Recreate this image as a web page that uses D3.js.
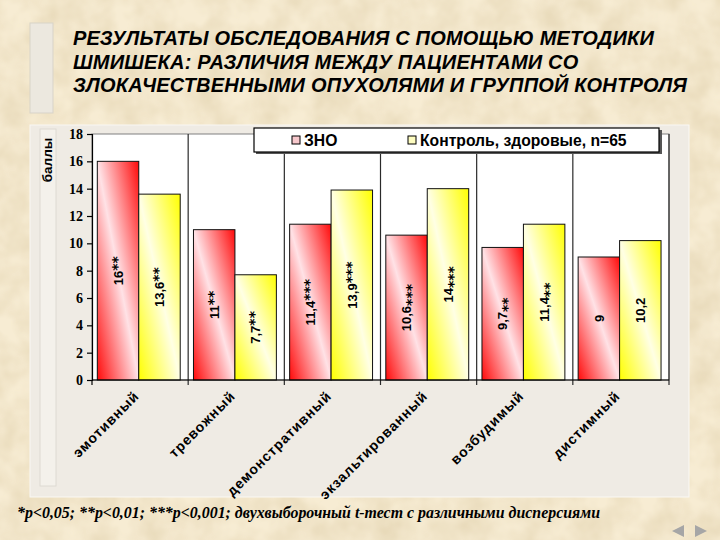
<!DOCTYPE html>
<html>
<head>
<meta charset="utf-8">
<script src="https://cdn.jsdelivr.net/npm/d3@7/dist/d3.min.js"></script>
<style>
  body { margin: 0; padding: 0; background: #f6eacf; }
  svg { display: block; }
</style>
</head>
<body>
<div id="chart"></div>
<script>
//
// Data
//
var categories = ["эмотивный", "тревожный", "демонстративный", "экзальтированный", "возбудимый", "дистимный"];
var seriesNames = ["ЗНО", "Контроль, здоровые, n=65"];
var znoValues = [16, 11, 11.4, 10.6, 9.7, 9];
var controlValues = [13.6, 7.7, 13.9, 14, 11.4, 10.2];
var znoStars = ["**", "**", "***", "***", "**", ""];
var controlStars = ["**", "**", "***", "***", "**", ""];
var yTicks = [0, 2, 4, 6, 8, 10, 12, 14, 16, 18];
var titleLines = [
  "РЕЗУЛЬТАТЫ ОБСЛЕДОВАНИЯ С ПОМОЩЬЮ МЕТОДИКИ",
  "ШМИШЕКА: РАЗЛИЧИЯ МЕЖДУ ПАЦИЕНТАМИ СО",
  "ЗЛОКАЧЕСТВЕННЫМИ ОПУХОЛЯМИ И ГРУППОЙ КОНТРОЛЯ"
];
var footnote = "*p<0,05; **p<0,01; ***p<0,001; двухвыборочный t-тест с различными дисперсиями";

var W = 720, H = 540;
var plot = {left: 92, right: 669, top: 134, bottom: 380};
var sans = "'Liberation Sans', Arial, sans-serif";
var serif = "'Liberation Serif', 'Times New Roman', serif";

var svg = d3.select("#chart").append("svg")
  .attr("width", W)
  .attr("height", H);

var defs = svg.append("defs");

// parchment texture
var tex = defs.append("filter").attr("id", "paper")
  .attr("x", 0).attr("y", 0).attr("width", "100%").attr("height", "100%");
tex.append("feTurbulence").attr("type", "fractalNoise")
  .attr("baseFrequency", 0.035).attr("numOctaves", 3).attr("seed", 4);
tex.append("feColorMatrix").attr("type", "matrix")
  .attr("values", "0 0 0 0 0.55  0 0 0 0 0.42  0 0 0 0 0.2  0 0 0 0.45 -0.12");
tex.append("feComposite").attr("in2", "SourceGraphic").attr("operator", "in");

// diagonal bar gradients
function barGradient(id, edge, middle) {
  var g = defs.append("linearGradient").attr("id", id)
    .attr("x1", 0).attr("y1", 1).attr("x2", 1).attr("y2", 0);
  g.append("stop").attr("offset", "0%").attr("stop-color", edge);
  g.append("stop").attr("offset", "50%").attr("stop-color", middle);
  g.append("stop").attr("offset", "100%").attr("stop-color", edge);
}
barGradient("gRed", "#ff0a0a", "#ffe2e6");
barGradient("gYellow", "#ffff00", "#ffffe4");

svg.append("rect").attr("width", W).attr("height", H).attr("fill", "#f7ecd3");
svg.append("rect").attr("width", W).attr("height", H).attr("fill", "#f7ecd3")
  .attr("filter", "url(#paper)");

// decorative strip next to the title
svg.append("rect")
  .attr("x", 30).attr("y", 23).attr("width", 23).attr("height", 90)
  .attr("fill", "#ece8df").attr("stroke", "#d8d3c8");

// title
svg.append("g").selectAll("text")
  .data(titleLines)
  .enter().append("text")
  .attr("x", 73)
  .attr("y", function(d, i) { return 45 + i * 23.5; })
  .attr("font-family", sans)
  .attr("font-size", 20)
  .attr("font-weight", "bold")
  .attr("font-style", "italic")
  .attr("letter-spacing", 0.2)
  .attr("fill", "#000")
  .text(function(d) { return d; });

// chart panel
svg.append("rect")
  .attr("x", 30).attr("y", 125).attr("width", 659).attr("height", 372)
  .attr("fill", "#efebe4").attr("stroke", "#faf8f4");
svg.append("rect")
  .attr("x", 40).attr("y", 129).attr("width", 16).attr("height", 357)
  .attr("fill", "#f4f1eb").attr("stroke", "#dedad2");

// plot area
svg.append("rect")
  .attr("x", plot.left).attr("y", plot.top)
  .attr("width", plot.right - plot.left).attr("height", plot.bottom - plot.top)
  .attr("fill", "#fff").attr("stroke", "#808080");

//
// scales
//
var x0 = d3.scaleBand().domain(categories).range([plot.left, plot.right]);
var x1 = d3.scaleBand().domain([0, 1]).range([0, x0.bandwidth()])
  .paddingOuter(0.16).align(0.4);
var y = d3.scaleLinear().domain([0, 18]).range([plot.bottom, plot.top]);

// category separators, with ticks below the axis
var bounds = categories.slice(1).map(function(c) { return x0(c); }).concat([plot.right]);
svg.append("g").selectAll("line")
  .data(bounds)
  .enter().append("line")
  .attr("x1", function(d) { return d; })
  .attr("x2", function(d) { return d; })
  .attr("y1", plot.top)
  .attr("y2", plot.bottom + 5)
  .attr("stroke", "#2a2a2a")
  .attr("stroke-width", 1.2);

//
// bars
//
var rows = categories.map(function(c, i) {
  return [
    {cat: c, i: i, s: 0, v: znoValues[i], stars: znoStars[i]},
    {cat: c, i: i, s: 1, v: controlValues[i], stars: controlStars[i]}
  ];
});

var group = svg.append("g").selectAll("g")
  .data(rows)
  .enter().append("g")
  .attr("transform", function(d) { return "translate(" + x0(d[0].cat) + ",0)"; });

group.selectAll("rect")
  .data(function(d) { return d; })
  .enter().append("rect")
  .attr("x", function(d) { return x1(d.s); })
  .attr("y", function(d) { return y(d.v); })
  .attr("width", x1.bandwidth())
  .attr("height", function(d) { return y(0) - y(d.v); })
  .attr("fill", function(d) { return d.s === 0 ? "url(#gRed)" : "url(#gYellow)"; })
  .attr("stroke", "#111")
  .attr("stroke-width", 1);

// rotated value labels inside bars
var label = group.selectAll("text")
  .data(function(d) { return d; })
  .enter().append("text")
  .attr("transform", function(d) {
    var cx = x1(d.s) + x1.bandwidth() / 2;
    var cy = (y(d.v) + y(0)) / 2;
    return "translate(" + cx + "," + cy + ")rotate(-90)";
  })
  .attr("text-anchor", "middle")
  .attr("font-family", sans)
  .attr("font-size", 13)
  .attr("font-weight", "bold")
  .attr("fill", "#000");

label.append("tspan")
  .attr("dy", "0.36em")
  .text(function(d) { return String(d.v).replace(".", ","); });
label.append("tspan")
  .attr("dy", function(d) { return d.i < 3 ? -1 : 5; })
  .attr("font-family", "'DejaVu Sans', sans-serif")
  .attr("font-size", 14)
  .text(function(d) { return d.stars; });

//
// axes
//
var yAxis = svg.append("g")
  .attr("transform", "translate(" + plot.left + ",0)")
  .call(d3.axisLeft(y).tickValues(yTicks).tickSize(5).tickPadding(4).tickFormat(d3.format("d")));
yAxis.select(".domain").attr("stroke", "#000").attr("stroke-width", 1.2);
yAxis.selectAll(".tick line").attr("stroke", "#000").attr("stroke-width", 1.2);
yAxis.selectAll(".tick text")
  .attr("font-family", serif)
  .attr("font-size", 14)
  .attr("font-weight", "bold")
  .attr("fill", "#000");

svg.append("line")
  .attr("x1", plot.left).attr("x2", plot.right)
  .attr("y1", plot.bottom).attr("y2", plot.bottom)
  .attr("stroke", "#000").attr("stroke-width", 1.2);
svg.append("line")
  .attr("x1", plot.left).attr("x2", plot.left)
  .attr("y1", plot.bottom).attr("y2", plot.bottom + 5)
  .attr("stroke", "#000").attr("stroke-width", 1.2);

// category labels
svg.append("g").selectAll("text")
  .data(categories)
  .enter().append("text")
  .attr("transform", function(d) {
    return "translate(" + (x0(d) + x0.bandwidth() / 2) + "," + (plot.bottom + 17) + ")rotate(-45)";
  })
  .attr("text-anchor", "end")
  .attr("font-family", sans)
  .attr("font-size", 14)
  .attr("font-weight", "bold")
  .attr("letter-spacing", 0.9)
  .attr("fill", "#000")
  .text(function(d) { return d; });

// y axis title
svg.append("text")
  .attr("transform", "translate(52,160)rotate(-90)")
  .attr("text-anchor", "middle")
  .attr("font-family", sans)
  .attr("font-size", 13.5)
  .attr("font-weight", "bold")
  .attr("fill", "#000")
  .text("баллы");

//
// legend
//
var legend = svg.append("g");
legend.append("rect")
  .attr("x", 256).attr("y", 130).attr("width", 406).attr("height", 24)
  .attr("fill", "#555");
legend.append("rect")
  .attr("x", 254).attr("y", 128).attr("width", 405).attr("height", 24)
  .attr("fill", "#fff").attr("stroke", "#000").attr("stroke-width", 1.2);

var legendX = [292, 408];
var item = legend.selectAll(".item")
  .data(seriesNames)
  .enter().append("g")
  .attr("class", "item")
  .attr("transform", function(d, i) { return "translate(" + legendX[i] + ",136)"; });
item.append("rect")
  .attr("width", 8).attr("height", 8)
  .attr("fill", function(d, i) { return i === 0 ? "#f7c8cc" : "#fdfcc0"; })
  .attr("stroke", "#000");
item.append("text")
  .attr("x", 12).attr("y", 9.5)
  .attr("font-family", sans)
  .attr("font-size", 15.7)
  .attr("font-weight", "bold")
  .attr("fill", "#000")
  .text(function(d) { return d; });

// footnote
svg.append("text")
  .attr("x", 17).attr("y", 518)
  .attr("font-family", serif)
  .attr("font-size", 15.9)
  .attr("font-weight", "bold")
  .attr("font-style", "italic")
  .attr("fill", "#000")
  .text(footnote);

// navigation arrows
svg.append("path")
  .attr("d", "M672,531L684,525L684,537Z")
  .attr("fill", "#a6a6a6");
svg.append("path")
  .attr("d", "M695,525L707,531L695,537Z")
  .attr("fill", "#a6a6a6");
</script>
</body>
</html>
